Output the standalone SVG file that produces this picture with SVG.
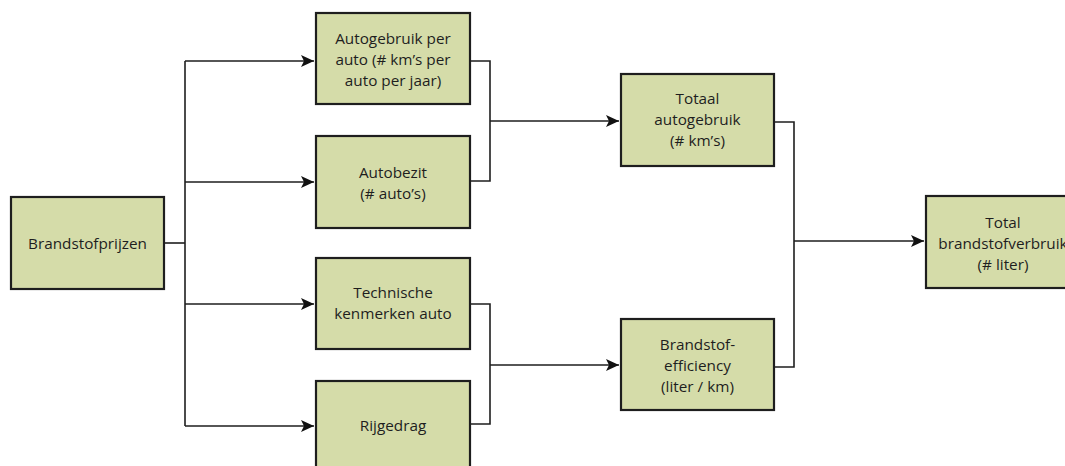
<svg xmlns="http://www.w3.org/2000/svg" width="1065" height="466" viewBox="0 0 1065 466">
<style>
.box{fill:#d5dca9;stroke:#1e1e1e;stroke-width:2.2}
.t{font-family:"Open Sans","Noto Sans",sans-serif;font-size:15.3px;fill:#1e1e1e;text-anchor:middle;dominant-baseline:central}
.c{fill:none;stroke:#1e1e1e;stroke-width:1.6}
</style>
<defs>
<marker id="ah" markerWidth="14" markerHeight="12" refX="13" refY="6" orient="auto" markerUnits="userSpaceOnUse">
<path d="M0,0 L13,6 L0,12 L3,6 Z" fill="#111"/>
</marker>
</defs>
<rect width="1065" height="466" fill="#fff"/>
<g id="connectors">
<path class="c" d="M164,243 H185"/>
<path class="c" d="M185,61 V426"/>
<path class="c" d="M185,61 H314" marker-end="url(#ah)"/>
<path class="c" d="M185,182 H314" marker-end="url(#ah)"/>
<path class="c" d="M185,304 H314" marker-end="url(#ah)"/>
<path class="c" d="M185,426 H314" marker-end="url(#ah)"/>
<path class="c" d="M470,61 H490 V181 H470"/>
<path class="c" d="M490,121 H619" marker-end="url(#ah)"/>
<path class="c" d="M470,304 H490 V424 H470"/>
<path class="c" d="M490,365 H619" marker-end="url(#ah)"/>
<path class="c" d="M774,122 H794 V367 H774"/>
<path class="c" d="M794,241 H924" marker-end="url(#ah)"/>
</g>
<g id="n-brandstofprijzen"><rect class="box" x="11" y="197" width="153" height="92"/><text class="t" x="87.5" y="243">Brandstofprijzen</text></g>
<g id="n-autogebruik"><rect class="box" x="316" y="13" width="154" height="91"/><text class="t" x="393" y="38">Autogebruik per</text><text class="t" x="393" y="59">auto (# km’s per</text><text class="t" x="393" y="80">auto per jaar)</text></g>
<g id="n-autobezit"><rect class="box" x="316" y="136" width="154" height="92"/><text class="t" x="393" y="171.5">Autobezit</text><text class="t" x="393" y="192.5">(# auto’s)</text></g>
<g id="n-technische"><rect class="box" x="316" y="258" width="154" height="91"/><text class="t" x="393" y="292">Technische</text><text class="t" x="393" y="313">kenmerken auto</text></g>
<g id="n-rijgedrag"><rect class="box" x="316" y="381" width="154" height="91"/><text class="t" x="393" y="425">Rijgedrag</text></g>
<g id="n-totaal"><rect class="box" x="621" y="74" width="153" height="92"/><text class="t" x="697.5" y="98">Totaal</text><text class="t" x="697.5" y="119">autogebruik</text><text class="t" x="697.5" y="140">(# km’s)</text></g>
<g id="n-efficiency"><rect class="box" x="621" y="319" width="153" height="91"/><text class="t" x="697.5" y="344">Brandstof-</text><text class="t" x="697.5" y="365">efficiency</text><text class="t" x="697.5" y="386">(liter / km)</text></g>
<g id="n-total"><rect class="box" x="926" y="196" width="154" height="92"/><text class="t" x="1003" y="222">Total</text><text class="t" x="1003" y="243">brandstofverbruik</text><text class="t" x="1003" y="264">(# liter)</text></g>
</svg>
